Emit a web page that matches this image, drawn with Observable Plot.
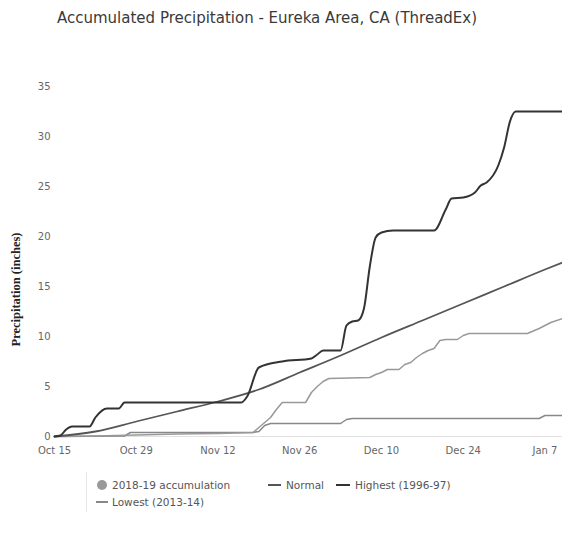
<!DOCTYPE html>
<html>
<head>
<meta charset="utf-8">
<script src="https://cdn.jsdelivr.net/npm/d3@7"></script>
<script src="https://cdn.jsdelivr.net/npm/@observablehq/plot@0.6"></script>
<style>
  body { margin: 0; background: #fff; font-family: "DejaVu Sans", sans-serif; }
  #wrap { position: relative; width: 562px; height: 533px; overflow: hidden; }
  #title { position: absolute; left: 57px; top: 9px; font-size: 15px; color: #3a3a3a; white-space: nowrap; }
  #chart { position: absolute; left: 0; top: 36px; }
  .lg { position: absolute; font-size: 10.5px; color: #555; white-space: nowrap; line-height: 12px; }
  .dash { position: absolute; height: 2px; }
</style>
</head>
<body>
<div id="wrap">
  <div id="title">Accumulated Precipitation - Eureka Area, CA (ThreadEx)</div>
  <div id="chart"></div>
  <div style="position:absolute;left:86px;top:472px;width:1px;height:40px;background:#e6e6e6"></div>
  <div style="position:absolute;left:97px;top:480px;width:10px;height:10px;border-radius:5px;background:#999"></div>
  <div class="lg" style="left:112px;top:479px">2018-19 accumulation</div>
  <div class="dash" style="left:268px;top:484px;width:13px;background:#555"></div>
  <div class="lg" style="left:286px;top:479px">Normal</div>
  <div class="dash" style="left:336px;top:484px;width:14px;background:#333"></div>
  <div class="lg" style="left:355px;top:479px">Highest (1996-97)</div>
  <div class="dash" style="left:96px;top:501px;width:12px;background:#888"></div>
  <div class="lg" style="left:112px;top:496px">Lowest (2013-14)</div>
</div>
<script>
// ---- data ----
const xTicks = ["2018-10-15","2018-10-29","2018-11-12","2018-11-26","2018-12-10","2018-12-24","2019-01-07"];
const yTicks = [0, 5, 10, 15, 20, 25, 30, 35];

const accDates = ["2018-10-15","2018-10-22","2018-10-29","2018-11-05","2018-11-12","2018-11-18","2018-11-19","2018-11-20","2018-11-21","2018-11-22","2018-11-23","2018-11-27","2018-11-28","2018-11-29","2018-11-30","2018-12-01","2018-12-08","2018-12-09","2018-12-10","2018-12-11","2018-12-13","2018-12-14","2018-12-15","2018-12-16","2018-12-17","2018-12-18","2018-12-19","2018-12-20","2018-12-21","2018-12-23","2018-12-24","2018-12-25","2019-01-04","2019-01-06","2019-01-08","2019-01-10"];
const accValues = [0,0.05,0.15,0.25,0.3,0.4,0.9,1.4,1.9,2.7,3.4,3.4,4.4,5.0,5.5,5.8,5.9,6.2,6.4,6.7,6.7,7.2,7.4,7.9,8.3,8.6,8.8,9.6,9.7,9.7,10.1,10.3,10.3,10.8,11.4,11.8];

const normalDates = ["2018-10-15","2018-10-22","2018-10-29","2018-11-05","2018-11-12","2018-11-19","2018-11-26","2018-12-03","2018-12-10","2018-12-17","2018-12-24","2018-12-31","2019-01-07","2019-01-10"];
const normalValues = [0,0.5,1.5,2.5,3.5,4.7,6.4,8.1,9.9,11.6,13.3,15.0,16.7,17.4];

const highDates = ["2018-10-15","2018-10-16","2018-10-17","2018-10-18","2018-10-21","2018-10-22","2018-10-24","2018-10-26","2018-10-27","2018-11-16","2018-11-17","2018-11-19","2018-11-23","2018-11-28","2018-11-29","2018-11-30","2018-12-03","2018-12-04","2018-12-05","2018-12-06","2018-12-07","2018-12-08","2018-12-09","2018-12-10","2018-12-12","2018-12-19","2018-12-21","2018-12-22","2018-12-24","2018-12-26","2018-12-27","2018-12-28","2018-12-30","2018-12-31","2019-01-01","2019-01-02","2019-01-10"];
const highValues = [0,0.1,0.7,1.0,1.0,1.9,2.8,2.8,3.4,3.4,4.0,6.9,7.5,7.8,8.2,8.6,8.6,11.1,11.5,11.6,12.8,17.0,19.9,20.4,20.6,20.6,22.7,23.8,23.9,24.4,25.1,25.4,27.1,28.9,31.5,32.5,32.5];

const lowDates = ["2018-10-15","2018-10-27","2018-10-28","2018-11-18","2018-11-19","2018-11-20","2018-11-21","2018-12-03","2018-12-04","2018-12-05","2019-01-06","2019-01-07","2019-01-10"];
const lowValues = [0,0.05,0.4,0.4,0.5,1.1,1.3,1.3,1.7,1.8,1.8,2.1,2.1];

const series = [
  {name: "Lowest (2013-14)", dates: lowDates, values: lowValues, color: "#888", width: 1.5, curve: "linear"},
  {name: "2018-19 accumulation", dates: accDates, values: accValues, color: "#999", width: 1.5, curve: "linear"},
  {name: "Normal", dates: normalDates, values: normalValues, color: "#555", width: 1.8, curve: "monotone-x"},
  {name: "Highest (1996-97)", dates: highDates, values: highValues, color: "#333", width: 2, curve: "monotone-x"}
];

const parse = d3.utcParse("%Y-%m-%d");

const marks = [
  Plot.ruleY([0], {stroke: "#e2e2e2"})
];
for (const s of series) {
  const rows = s.dates.map((d, i) => ({date: parse(d), value: s.values[i]}));
  marks.push(Plot.line(rows, {x: "date", y: "value", stroke: s.color, strokeWidth: s.width, curve: s.curve}));
}
marks.push(Plot.axisX(xTicks.map(parse), {tickSize: 0, tickPadding: 10, tickFormat: d3.utcFormat("%b %-d"), fontSize: 10, color: "#666", label: null}));
marks.push(Plot.axisY(yTicks, {tickSize: 0, tickPadding: 4, fontSize: 10, color: "#666", label: null}));
marks.push(Plot.text(["Precipitation (inches)"], {frameAnchor: "left", dx: -39, dy: 85, rotate: -90, fontSize: 12.5, fontWeight: "bold", fontFamily: "Liberation Serif, serif", fill: "#222"}));

const chart = Plot.plot({
  width: 562,
  height: 430,
  marginTop: 50,
  marginBottom: 30,
  marginLeft: 54,
  marginRight: 0,
  style: {fontFamily: "DejaVu Sans, sans-serif", background: "#fff", overflow: "visible"},
  x: {type: "utc", domain: [parse("2018-10-15"), parse("2019-01-10")]},
  y: {domain: [0, 35]},
  marks
});
document.getElementById("chart").appendChild(chart);
</script>
</body>
</html>
